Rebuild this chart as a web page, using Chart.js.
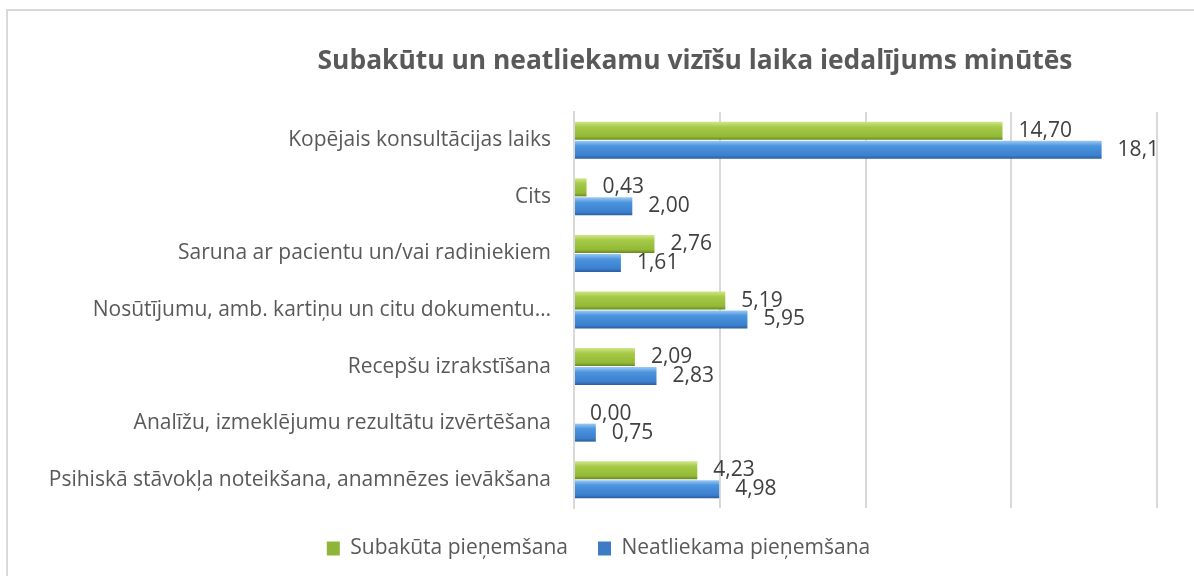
<!DOCTYPE html>
<html>
<head>
  <title>Subakūtu un neatliekamu vizīšu laiks</title>
  <script src="https://cdn.jsdelivr.net/npm/chart.js"></script>
  <style>
    body { margin: 0; overflow: hidden; background: #fff; }
    #frame { position: absolute; left: 6px; top: 9px; width: 1300px; height: 700px;
             border: 2px solid #d9d9d9; }
    #title { position: absolute; left: 695px; top: 41px; transform: translateX(-50%);
             white-space: nowrap; font: bold 26.4px "Open Sans"; color: #595959; }
    #chart { position: absolute; left: 0; top: 0; }
  </style>
</head>
<body>
  <div id="frame"></div>
  <canvas id="chart" width="1194" height="576"></canvas>
  <div id="title">Subakūtu un neatliekamu vizīšu laika iedalījums minūtēs</div>

  <script>
    // categories, top to bottom
    const categories = [
      'Kopējais konsultācijas laiks',
      'Cits',
      'Saruna ar pacientu un/vai radiniekiem',
      'Nosūtījumu, amb. kartiņu un citu dokumentu…',
      'Recepšu izrakstīšana',
      'Analīžu, izmeklējumu rezultātu izvērtēšana',
      'Psihiskā stāvokļa noteikšana, anamnēzes ievākšana'
    ];
    const seriesNames = ['Subakūta pieņemšana', 'Neatliekama pieņemšana'];

    // minutes
    const subakuta = [14.70, 0.43, 2.76, 5.19, 2.09, 0.00, 4.23];
    const neatliekama = [18.1, 2.00, 1.61, 5.95, 2.83, 0.75, 4.98];

    // value labels as printed on the chart
    const subakutaText = ['14,70', '0,43', '2,76', '5,19', '2,09', '0,00', '4,23'];
    const neatliekamaText = ['18,1', '2,00', '1,61', '5,95', '2,83', '0,75', '4,98'];

    const xTicks = [0, 5, 10, 15, 20];

    const catPct = 0.67;
    const barPct = 0.95;

    const greenStops = ['#d2e98d', '#a6ca47', '#93b937', '#62811d'];
    const blueStops = ['#a2cff6', '#4b94de', '#3b80ce', '#285896'];
    const legendFill = ['#8fb43a', '#3d7cc4'];

    // vertical gradient per bar, built from the category scale
    function barFill(ctx, stops) {
      const chart = ctx.chart;
      const y = chart.scales.y;
      if (!y || ctx.dataIndex === undefined) return stops[1];
      const center = y.getPixelForValue(ctx.dataIndex);
      const half = (y.height / categories.length) * catPct / 2;
      if (!isFinite(center) || !isFinite(half) || half <= 0) return stops[1];
      const top = ctx.datasetIndex === 0 ? center - half : center;
      const g = chart.ctx.createLinearGradient(0, top, 0, top + half);
      g.addColorStop(0, stops[0]);
      g.addColorStop(0.3, stops[1]);
      g.addColorStop(0.8, stops[2]);
      g.addColorStop(1, stops[3]);
      return g;
    }

    // value labels to the right of each bar
    const valueLabels = {
      id: 'valueLabels',
      afterDatasetsDraw(chart) {
        const ctx = chart.ctx;
        const texts = [subakutaText, neatliekamaText];
        ctx.save();
        ctx.font = '21px "Open Sans"';
        ctx.fillStyle = '#404040';
        ctx.textAlign = 'left';
        ctx.textBaseline = 'middle';
        chart.data.datasets.forEach((ds, di) => {
          chart.getDatasetMeta(di).data.forEach((bar, i) => {
            ctx.fillText(texts[di][i], bar.x + 16, bar.y);
          });
        });
        ctx.restore();
      }
    };

    new Chart(document.getElementById('chart'), {
      type: 'bar',
      data: {
        labels: categories,
        datasets: [
          {
            label: seriesNames[0],
            data: subakuta,
            backgroundColor: (c) => barFill(c, greenStops),
            borderWidth: 0,
            categoryPercentage: catPct,
            barPercentage: barPct
          },
          {
            label: seriesNames[1],
            data: neatliekama,
            backgroundColor: (c) => barFill(c, blueStops),
            borderWidth: 0,
            categoryPercentage: catPct,
            barPercentage: barPct
          }
        ]
      },
      options: {
        indexAxis: 'y',
        responsive: false,
        animation: false,
        layout: { padding: { left: 40, right: 37, top: 112, bottom: 7 } },
        scales: {
          x: {
            min: xTicks[0],
            max: xTicks[xTicks.length - 1],
            afterBuildTicks: (s) => { s.ticks = xTicks.map(v => ({ value: v })); },
            ticks: { display: false },
            grid: { color: '#d9d9d9', lineWidth: 2, drawTicks: false },
            border: { display: false }
          },
          y: {
            afterFit: (s) => { s.width = 534; },
            ticks: { color: '#595959', font: { family: 'Open Sans', size: 21 }, padding: 23 },
            grid: { display: false, drawTicks: false },
            border: { display: true, color: '#d9d9d9', width: 2 }
          }
        },
        plugins: {
          legend: {
            position: 'bottom',
            labels: {
              color: '#595959',
              font: { family: 'Open Sans', size: 21 },
              boxWidth: 13,
              boxHeight: 14,
              padding: 30,
              generateLabels: (chart) => {
                const items = Chart.defaults.plugins.legend.labels.generateLabels(chart);
                items.forEach((it, i) => { it.fillStyle = legendFill[i]; it.lineWidth = 0; });
                return items;
              }
            }
          },
          tooltip: { enabled: false }
        }
      },
      plugins: [valueLabels]
    });
  </script>
</body>
</html>
